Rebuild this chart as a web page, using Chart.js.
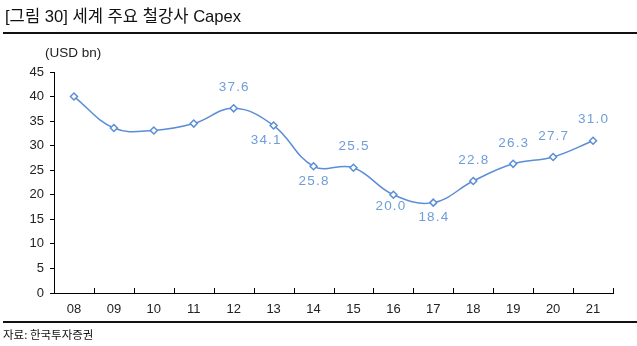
<!DOCTYPE html>
<html>
<head>
<meta charset="utf-8">
<script src="https://cdn.jsdelivr.net/npm/chart.js@4/dist/chart.umd.min.js"></script>
<style>
  html, body { margin: 0; padding: 0; background: #fff; }
  #wrap { position: relative; width: 637px; height: 346px; overflow: hidden; font-family: "Liberation Sans", "Noto Sans CJK KR", sans-serif; }
  #title { position: absolute; left: 5px; top: 3px; font-size: 16.6px; color: #111; white-space: nowrap; }
  #rule1 { position: absolute; left: 3px; right: 0; top: 32px; height: 2px; background: #111; }
  #unit { position: absolute; left: 45px; top: 45px; font-size: 13.5px; color: #222; }
  #rule2 { position: absolute; left: 3px; right: 0; top: 321px; height: 1.5px; background: #111; }
  #source { position: absolute; left: 3px; top: 326px; font-size: 11.5px; color: #111; font-family: "Noto Sans CJK KR", sans-serif; }
  #c { position: absolute; left: 0; top: 0; }
</style>
</head>
<body>
<div id="wrap">
  <canvas id="c" width="637" height="346"></canvas>
  <div id="title">[그림 30] 세계 주요 철강사 Capex</div>
  <div id="rule1"></div>
  <div id="unit">(USD bn)</div>
  <div id="rule2"></div>
  <div id="source">자료: 한국투자증권</div>
</div>
<script>
const categories = ['08','09','10','11','12','13','14','15','16','17','18','19','20','21'];
const capex = [40.0, 33.6, 33.1, 34.5, 37.6, 34.1, 25.8, 25.5, 20.0, 18.4, 22.8, 26.3, 27.7, 31.0];
const shownLabels = [null, null, null, null, '37.6', '34.1', '25.8', '25.5', '20.0', '18.4', '22.8', '26.3', '27.7', '31.0'];
const labelPlacement = [null, null, null, null, 'above', 'belowLeft', 'below', 'above', 'belowLeft2', 'below', 'above', 'above', 'above', 'above'];
const yTicks = [0, 5, 10, 15, 20, 25, 30, 35, 40, 45];

const LINE = '#5B8ED6';
const LABEL = '#6E9DDA';

const placeOffsets = {
  above: [0, -21],
  below: [0, 15],
  belowLeft: [-8, 15],
  belowLeft2: [-3, 12]
};

const overlay = {
  id: 'overlay',
  afterDatasetsDraw(chart) {
    const ctx = chart.ctx;
    const meta = chart.getDatasetMeta(0);
    ctx.save();
    ctx.font = '13.5px "Liberation Sans", Arial, sans-serif';
    if ('letterSpacing' in ctx) ctx.letterSpacing = '1.2px';
    ctx.fillStyle = LABEL;
    ctx.textAlign = 'center';
    ctx.textBaseline = 'middle';
    meta.data.forEach((pt, i) => {
      const txt = shownLabels[i];
      if (!txt) return;
      const off = placeOffsets[labelPlacement[i]] || [0, -20];
      ctx.fillText(txt, pt.x + off[0] + 0.6, pt.y + off[1]);
    });
    ctx.restore();
  },
  afterDraw(chart) {
    const ctx = chart.ctx;
    const area = chart.chartArea;
    ctx.save();
    ctx.strokeStyle = '#000';
    ctx.lineWidth = 1;
    const n = categories.length;
    const step = (area.right - area.left) / n;
    for (let i = 1; i <= n; i++) {
      const px = Math.round(area.left + step * i) + 0.5;
      ctx.beginPath();
      ctx.moveTo(px, area.bottom);
      ctx.lineTo(px, area.bottom - 5);
      ctx.stroke();
    }
    ctx.restore();
  }
};

new Chart(document.getElementById('c'), {
  type: 'line',
  data: {
    labels: categories,
    datasets: [{
      data: capex,
      borderColor: LINE,
      borderWidth: 1.5,
      tension: 0.4,
      pointStyle: 'rectRot',
      pointRadius: 3.5,
      pointBackgroundColor: '#fff',
      pointBorderColor: LINE,
      pointBorderWidth: 1.5,
      fill: false
    }]
  },
  options: {
    responsive: false,
    animation: false,
    devicePixelRatio: 1,
    layout: { padding: { left: 0, right: 24, top: 72, bottom: 23 } },
    plugins: { legend: { display: false }, tooltip: { enabled: false } },
    scales: {
      x: {
        type: 'category',
        offset: true,
        grid: { display: true, drawOnChartArea: false, drawTicks: false, offset: true },
        border: { display: true, color: '#000', width: 1 },
        ticks: { color: '#222', padding: 9, font: { size: 13, family: '"Liberation Sans", Arial, sans-serif' }, maxRotation: 0, autoSkip: false },
        afterFit(s) { s.height = 30; }
      },
      y: {
        min: 0,
        max: 45,
        afterBuildTicks(s) { s.ticks = yTicks.map(v => ({ value: v })); },
        grid: { drawOnChartArea: false, drawTicks: true, tickLength: 4, color: '#000' },
        border: { display: true, color: '#000', width: 1 },
        ticks: { color: '#222', padding: 6, font: { size: 13, family: '"Liberation Sans", Arial, sans-serif' } },
        afterFit(s) { s.width = 54; }
      }
    }
  },
  plugins: [overlay]
});
</script>
</body>
</html>
